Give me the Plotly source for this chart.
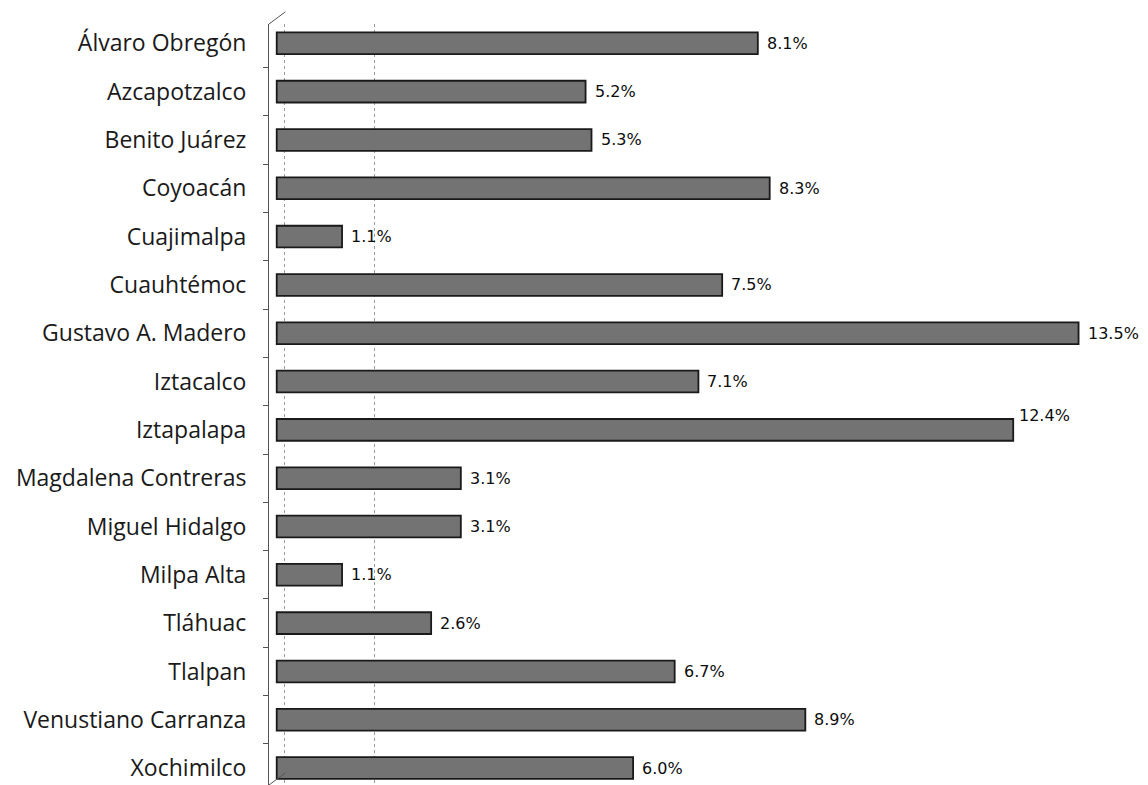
import plotly.graph_objects as go

categories = ["Álvaro Obregón", "Azcapotzalco", "Benito Juárez", "Coyoacán", "Cuajimalpa",
              "Cuauhtémoc", "Gustavo A. Madero", "Iztacalco", "Iztapalapa",
              "Magdalena Contreras", "Miguel Hidalgo", "Milpa Alta", "Tláhuac",
              "Tlalpan", "Venustiano Carranza", "Xochimilco"]
values = [8.1, 5.2, 5.3, 8.3, 1.1, 7.5, 13.5, 7.1, 12.4, 3.1, 3.1, 1.1, 2.6, 6.7, 8.9, 6.0]
labels = ["8.1%", "5.2%", "5.3%", "8.3%", "1.1%", "7.5%", "13.5%", "7.1%", "12.4%",
          "3.1%", "3.1%", "1.1%", "2.6%", "6.7%", "8.9%", "6.0%"]

# label offset styling (Iztapalapa label sits above its bar)
label_shift = {"Iztapalapa": (4, 14)}

fig = go.Figure()
fig.add_trace(go.Bar(
    y=categories, x=values, orientation="h",
    marker=dict(color="#737373", line=dict(color="#1a1a1a", width=1.8)),
    width=0.45, hoverinfo="skip",
))

annotations = []
for c, v, t in zip(categories, values, labels):
    xs, ys = label_shift.get(c, (7, 0))
    annotations.append(dict(x=v, y=c, text=t, showarrow=False, xanchor="left", yanchor="middle",
                            xshift=xs, yshift=ys,
                            font=dict(family="DejaVu Sans", size=16, color="#0d0d0d")))

fig.update_layout(
    width=1148, height=785,
    margin=dict(l=259, r=24, t=16, b=8),
    paper_bgcolor="white", plot_bgcolor="white",
    showlegend=False,
    annotations=annotations,
    xaxis=dict(range=[-0.13, 14.4], showticklabels=False, zeroline=False,
               tickvals=[0.13, 1.65], showgrid=True, gridcolor="#9a9a9a", griddash="dot",
               gridwidth=1, ticks=""),
    yaxis=dict(range=[15.35, -0.4], showline=True, linecolor="#555", linewidth=1,
               ticks="outside", ticklen=5, tickcolor="#555", tickson="boundaries",
               showgrid=False, ticklabelstandoff=17,
               tickfont=dict(family="Open Sans", size=23, color="#1a1a1a")),
    shapes=[
        dict(type="line", xref="paper", yref="paper", x0=0, y0=1.0, x1=0.019, y1=1.016,
             line=dict(color="#555", width=1)),
        dict(type="line", xref="paper", yref="paper", x0=0, y0=0.0, x1=0.019, y1=0.016,
             line=dict(color="#555", width=1)),
    ],
)

fig.write_html("out.html")
